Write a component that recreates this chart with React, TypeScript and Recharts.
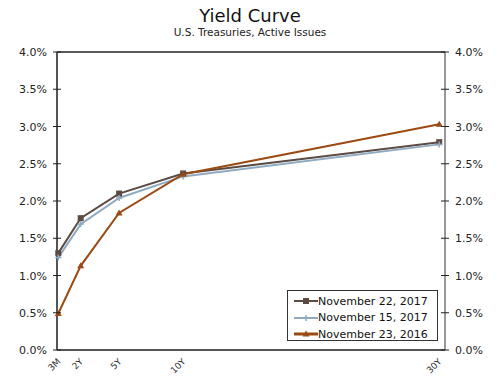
import { LineChart, Line, XAxis, YAxis, ReferenceLine } from 'recharts';

// maturities in years
const maturities = [0.25, 2, 5, 10, 30];
const maturityLabels = ['3M', '2Y', '5Y', '10Y', '30Y'];
const nov22_2017 = [1.30, 1.77, 2.10, 2.37, 2.79];
const nov15_2017 = [1.24, 1.69, 2.04, 2.33, 2.76];
const nov23_2016 = [0.49, 1.13, 1.84, 2.36, 3.03];
const yTicks = [0, 0.5, 1, 1.5, 2, 2.5, 3, 3.5, 4];

const series = [
  { key: 'a', name: 'November 22, 2017', color: '#5b4b43', shape: 'square' },
  { key: 'b', name: 'November 15, 2017', color: '#8eaac2', shape: 'plus' },
  { key: 'c', name: 'November 23, 2016', color: '#9a4a12', shape: 'triangle' },
];

const data = maturities.map((m, i) => ({
  m,
  a: nov22_2017[i],
  b: nov15_2017[i],
  c: nov23_2016[i],
}));

const FONT = '"DejaVu Sans", Verdana, sans-serif';
const W = 500;
const H = 390;
const M = { top: 52, right: 55, bottom: 0, left: 0 };
const Y_W = 57;
const PLOT_W = W - Y_W - M.right;
const pct = (v: number) => `${v.toFixed(1)}%`;

function Marker({ cx, cy, shape, color }: any) {
  if (cx == null || cy == null) return null;
  if (shape === 'square') {
    return <rect x={cx - 3} y={cy - 3} width={6} height={6} fill={color} />;
  }
  if (shape === 'triangle') {
    return <path d={`M${cx},${cy - 3.5} L${cx + 3.5},${cy + 2.5} L${cx - 3.5},${cy + 2.5} Z`} fill={color} />;
  }
  return (
    <g stroke={color} strokeWidth={1.5}>
      <line x1={cx - 3} y1={cy} x2={cx + 3} y2={cy} />
      <line x1={cx} y1={cy - 3} x2={cx} y2={cy + 3} />
    </g>
  );
}

const XTick = ({ x, y, payload }: any) => {
  const i = maturities.indexOf(payload.value);
  return (
    <text
      x={x + 3}
      y={y + 4}
      transform={`rotate(-45, ${x + 3}, ${y + 4})`}
      textAnchor="end"
      fontSize={9}
      fontFamily={FONT}
      fill="#333"
    >
      {maturityLabels[i]}
    </text>
  );
};

// y tick: mark across both axis lines, label outside each
const YTick = ({ x, y, payload }: any) => {
  const xr = x + PLOT_W;
  return (
    <g>
      <line x1={x - 4} y1={y} x2={x + 4} y2={y} stroke="#222" strokeWidth={1} />
      <text x={x - 10} y={y + 4} textAnchor="end" fontSize={11} fontFamily={FONT} fill="#222">
        {pct(payload.value)}
      </text>
      <line x1={xr - 4} y1={y} x2={xr + 4} y2={y} stroke="#222" strokeWidth={1} />
      <text x={xr + 10} y={y + 4} textAnchor="start" fontSize={11} fontFamily={FONT} fill="#222">
        {pct(payload.value)}
      </text>
    </g>
  );
};

export default function App() {
  return (
    <div style={{ position: 'absolute', left: 0, top: 0, width: W, height: H, background: '#fff', fontFamily: FONT }}>
      <div style={{ position: 'absolute', top: 5, width: W, textAlign: 'center', fontSize: 18, color: '#111' }}>
        Yield Curve
      </div>
      <div style={{ position: 'absolute', top: 26, width: W, textAlign: 'center', fontSize: 10.5, color: '#222' }}>
        U.S. Treasuries, Active Issues
      </div>
      <LineChart width={W} height={H} data={data} margin={M}>
        <XAxis
          dataKey="m"
          type="number"
          domain={[0.15, 30.45]}
          ticks={maturities}
          interval={0}
          tick={<XTick />}
          tickLine={false}
          axisLine={{ stroke: '#555', strokeWidth: 2 }}
          height={40}
        />
        <YAxis
          domain={[0, 4]}
          ticks={yTicks}
          tick={<YTick />}
          tickLine={false}
          tickSize={0}
          tickMargin={0}
          axisLine={{ stroke: '#555', strokeWidth: 2 }}
          width={Y_W}
        />
        <ReferenceLine y={4} stroke="#222" strokeWidth={1.5} />
        <ReferenceLine x={30.45} stroke="#333" strokeWidth={1} />
        {series.map((s) => (
          <Line
            key={s.key}
            dataKey={s.key}
            name={s.name}
            stroke={s.color}
            strokeWidth={2}
            isAnimationActive={false}
            dot={(p: any) => <Marker key={`${s.key}-${p.index}`} cx={p.cx} cy={p.cy} shape={s.shape} color={s.color} />}
            activeDot={false}
          />
        ))}
      </LineChart>
      <div
        style={{
          position: 'absolute',
          left: 287,
          top: 290,
          width: 151,
          height: 51,
          border: '1px solid #333',
          padding: '2px 0 0 0',
          boxSizing: 'border-box',
        }}
      >
        {series.map((s) => (
          <div key={s.key} style={{ display: 'flex', alignItems: 'center', height: 16.5, fontSize: 11, color: '#111' }}>
            <svg width={30} height={10}>
              <line x1={6} y1={5} x2={30} y2={5} stroke={s.color} strokeWidth={s.key === 'c' ? 3 : 2} />
              <Marker cx={18} cy={5} shape={s.shape} color={s.color} />
            </svg>
            <span style={{ whiteSpace: 'nowrap' }}>{s.name}</span>
          </div>
        ))}
      </div>
    </div>
  );
}
